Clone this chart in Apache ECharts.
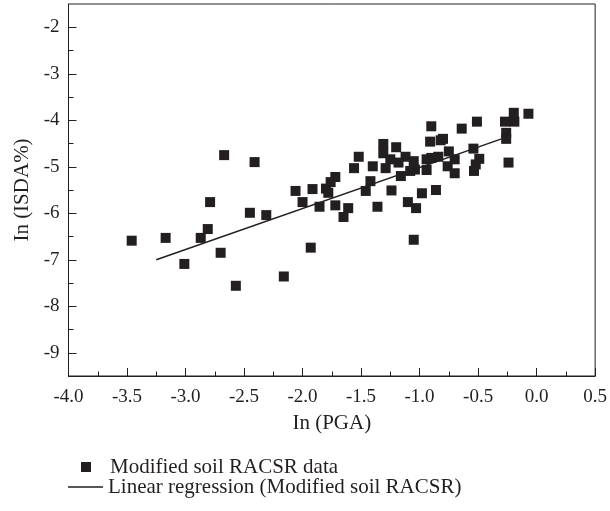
<!DOCTYPE html>
<html>
<head>
<meta charset="utf-8">
<script src="https://cdn.jsdelivr.net/npm/echarts@6/dist/echarts.min.js"></script>
<style>html,body{margin:0;padding:0;background:#fff;}#c{width:610px;height:511px;}</style>
</head>
<body>
<div id="c"></div>
<script>
// Scatter data: ln(PGA) and ln(ISDA%)
var pgaX = [-3.46,-3.17,-3.01,-2.87,-2.81,-2.79,-2.70,-2.67,-2.57,-2.45,-2.41,-2.31,-2.16,-2.06,-2.00,-1.93,-1.915,-1.855,-1.80,-1.78,-1.76,-1.72,-1.72,-1.61,-1.65,-1.46,-1.36,-1.24,-1.10,-1.03,-0.98,-0.86,-1.05,-0.90,-1.31,-1.20,-0.91,-0.80,-0.82,-1.31,-1.52,-1.56,-1.40,-1.29,-1.25,-1.18,-1.12,-1.05,-1.04,-1.08,-1.16,-0.94,-0.94,-0.90,-0.84,-0.75,-0.76,-0.70,-0.70,-1.42,-0.64,-0.51,-0.27,-0.195,-0.19,-0.07,-0.26,-0.26,-0.24,-0.54,-0.49,-0.52,-0.535];
var isdaY = [-6.59,-6.53,-7.09,-6.53,-6.34,-5.76,-6.85,-4.75,-7.56,-5.99,-4.90,-6.04,-7.36,-5.52,-5.76,-6.74,-5.48,-5.86,-5.47,-5.56,-5.33,-5.22,-5.83,-5.89,-6.08,-5.52,-5.86,-5.51,-5.76,-5.89,-5.57,-5.50,-6.57,-4.13,-4.51,-4.58,-4.46,-4.40,-4.43,-4.71,-4.785,-5.03,-4.99,-5.03,-4.84,-4.91,-4.785,-4.88,-5.06,-5.09,-5.20,-5.07,-4.84,-4.81,-4.785,-4.67,-4.99,-4.84,-5.14,-5.31,-4.18,-4.03,-4.03,-3.84,-4.03,-3.86,-4.27,-4.40,-4.91,-4.61,-4.83,-4.95,-5.09];
// Regression line endpoints
var fitX = [-3.25, -0.30];
var fitY = [-7.00, -4.40];
// Tick labels
var yMajor = [-9,-8,-7,-6,-5,-4,-3,-2];
var yMinor = [-9.5,-8.5,-7.5,-6.5,-5.5,-4.5,-3.5,-2.5];
var seriesNames = ['Modified soil RACSR data', 'Linear regression (Modified soil RACSR)'];

var C = '#231f20';
var FONT = 'Liberation Serif';
var scatterData = pgaX.map(function(x,i){return [x, isdaY[i]];});
var lineData = fitX.map(function(x,i){return [x, fitY[i]];});

var chart = echarts.init(document.getElementById('c'), null, {renderer:'canvas'});
chart.setOption({
  animation:false,
  textStyle:{fontFamily:FONT, color:C},
  grid:{left:68.5, right:12, top:4, bottom:135, show:true, borderColor:C, borderWidth:1, backgroundColor:'transparent'},
  xAxis:{
    type:'value', min:-4, max:0.5, interval:0.5,
    name:'In (PGA)', nameLocation:'middle', nameGap:37,
    nameTextStyle:{fontFamily:FONT, fontSize:21, color:C},
    axisLine:{show:true, onZero:false, lineStyle:{color:C, width:1}},
    axisTick:{show:true, inside:true, length:8, lineStyle:{color:C}},
    minorTick:{show:true, splitNumber:2, length:4.5, lineStyle:{color:C}},
    axisLabel:{fontFamily:FONT, fontSize:19, color:C, margin:11.5, formatter:function(v){return v.toFixed(1);}},
    splitLine:{show:false}
  },
  yAxis:[{
    type:'value', min:-9.5, max:-1.5,
    name:'In (ISDA%)', nameLocation:'middle', nameGap:36,
    nameTextStyle:{fontFamily:FONT, fontSize:21, color:C},
    axisLine:{show:true, onZero:false, lineStyle:{color:C, width:1}},
    axisTick:{show:true, inside:true, length:8, customValues:yMajor, lineStyle:{color:C}},
    axisLabel:{fontFamily:FONT, fontSize:19, color:C, margin:9, customValues:yMajor},
    splitLine:{show:false}
  },{
    type:'value', min:-9.5, max:-1.5, position:'left',
    axisLine:{show:false, onZero:false},
    axisTick:{show:true, inside:true, length:5, customValues:yMinor, lineStyle:{color:C}},
    axisLabel:{show:false},
    splitLine:{show:false}
  }],
  legend:[{
    data:[{name:seriesNames[0], icon:'rect'}],
    left:81, top:456.5, itemWidth:10, itemHeight:10, padding:0,
    textStyle:{fontFamily:FONT, fontSize:21, color:C, padding:[0,0,0,14]}
  },{
    data:[{name:seriesNames[1], icon:'rect'}],
    left:68, top:476.5, itemWidth:35, itemHeight:1.5, padding:0,
    textStyle:{fontFamily:FONT, fontSize:21, color:C}
  }],
  series:[{
    name:seriesNames[0], type:'scatter', symbol:'rect', symbolSize:10,
    itemStyle:{color:C, opacity:1}, data:scatterData, z:3
  },{
    name:seriesNames[1], type:'line', symbol:'none', showSymbol:false,
    lineStyle:{color:C, width:1.5}, itemStyle:{color:C}, data:lineData, z:4
  }]
});
</script>
</body>
</html>
